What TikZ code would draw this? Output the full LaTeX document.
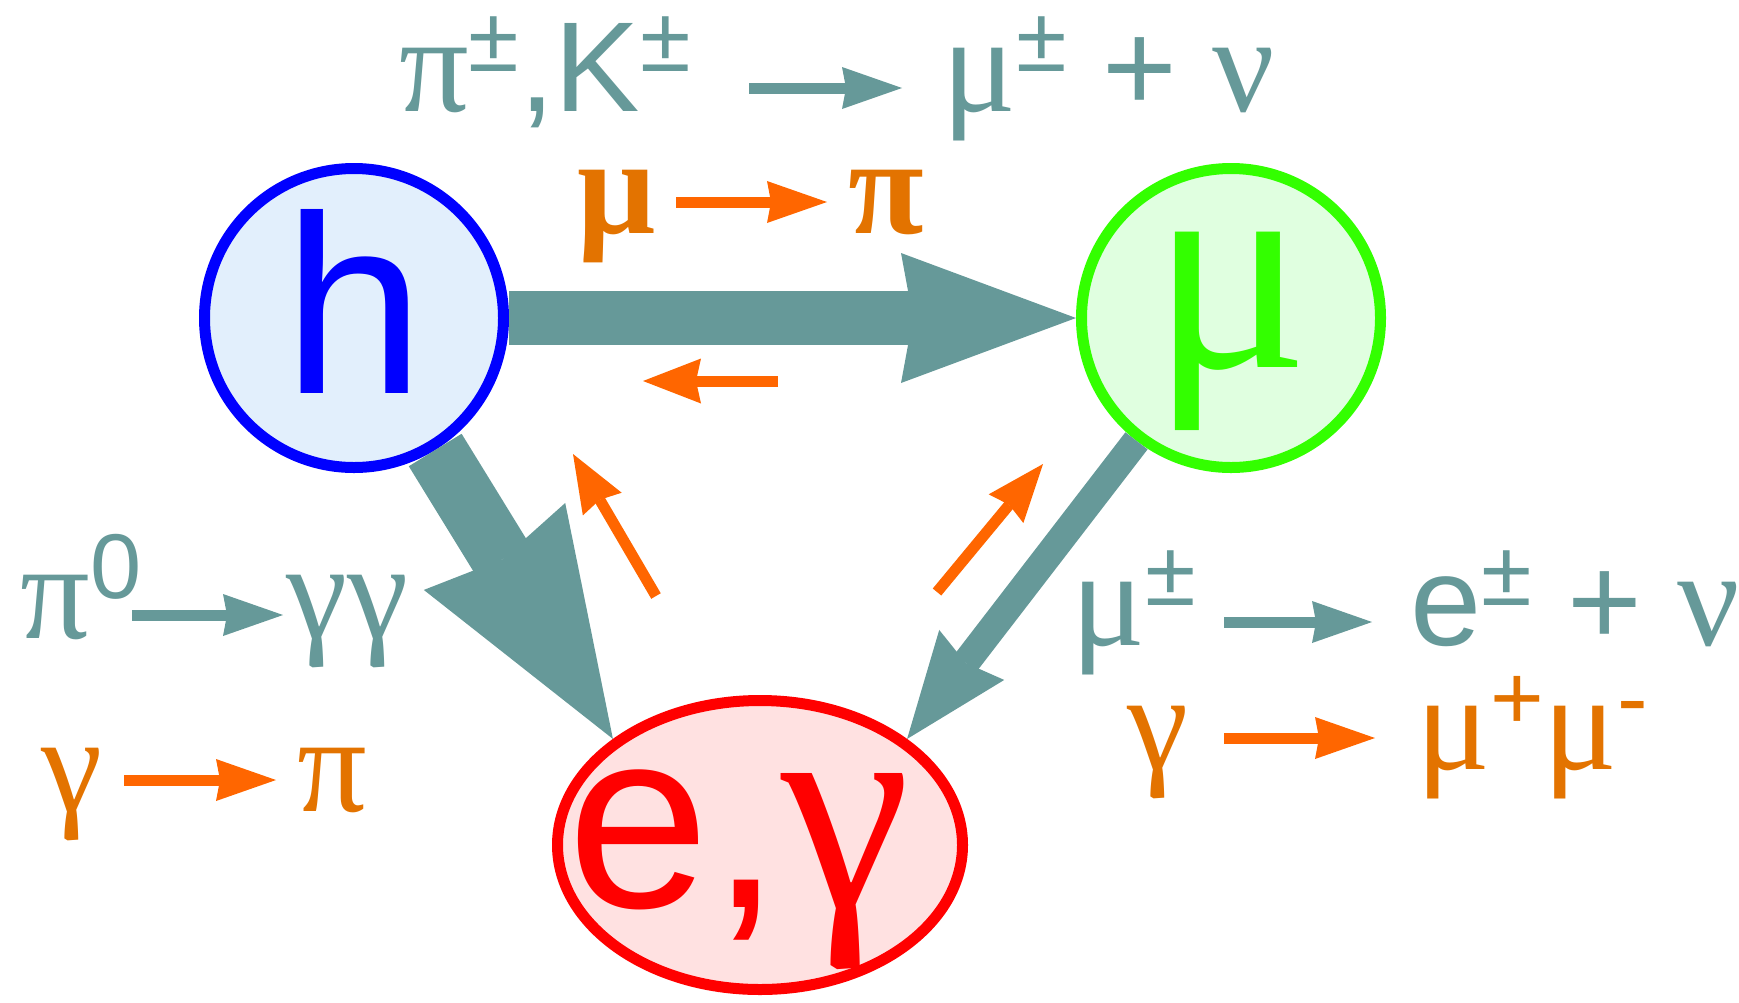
\documentclass[tikz,border=0pt]{standalone}
\usepackage{fontspec}
\setmainfont{Liberation Sans}
\newfontfamily\gr{Liberation Serif}
\usetikzlibrary{arrows.meta, shapes.geometric}

\definecolor{tealc}{RGB}{102,153,153}
\definecolor{orangearrow}{RGB}{255,102,0}
\definecolor{orangetext}{RGB}{227,115,0}
\definecolor{hblue}{RGB}{0,0,255}
\definecolor{hfill}{RGB}{226,239,252}
\definecolor{mugreen}{RGB}{51,255,0}
\definecolor{mufill}{RGB}{224,255,224}
\definecolor{egred}{RGB}{255,0,0}
\definecolor{egfill}{RGB}{255,225,225}

\newcommand\fs[1]{\fontsize{#1}{#1}\selectfont}
\newcommand\grk[1]{{\gr\fs{138}#1}}
\newcommand\upsym[1]{\raisebox{40pt}{\fs{92}#1}}

\tikzset{
    particle/.style={circle, line width=11pt, inner sep=0pt, minimum size=299pt},
    teal text/.style={text=tealc, font=\fs{128}, inner sep=0pt, text height=60pt, text depth=14pt},
    orange text/.style={text=orangetext, font=\fs{128}, inner sep=0pt, text height=76pt, text depth=14pt},
    teal arrow/.style={draw=tealc, line width=11pt, -{Stealth[length=60pt, width=42pt, inset=4pt, line width=0pt]}},
    orange arrow/.style={draw=orangearrow, line width=11pt, -{Stealth[length=60pt, width=42pt, inset=4pt, line width=0pt]}},
    backflow/.style={draw=orangearrow, line width=11pt, -{Stealth[length=58pt, width=45pt, inset=5pt, line width=0pt]}}
}

\begin{document}
\begin{tikzpicture}[x=1pt, y=-1pt]
    \useasboundingbox (0,0) rectangle (1739,1002);

    % particle species
    \node[particle, draw=hblue, fill=hfill, text=hblue, font=\fs{254}, text height=182pt, text depth=32pt]
        (h) at (354,318) {h};
    \node[particle, draw=mugreen, fill=mufill, text=mugreen, font={\gr\fs{295}}, text height=160pt, text depth=62pt]
        (mu) at (1231,318) {μ};
    \node[ellipse, draw=egred, fill=egfill, line width=11pt, inner sep=0pt, minimum width=405pt, minimum height=289pt]
        (eg) at (760,845) {};
    \node[text=egred, font=\fs{256}, inner sep=0pt, text height=190pt, text depth=66pt]
        (egtext) at (739,845) {e,{\gr\fs{292}γ}};

    % main flows
    \draw[tealc, line width=54pt, -{Stealth[length=175pt, width=130pt, inset=12pt, line width=0pt]}] (h) -- (mu);
    \draw[tealc, line width=62pt, -{Stealth[length=226pt, width=166pt, inset=15pt, line width=0pt]}] (h) -- (eg.north west);
    \draw[tealc, line width=28pt, -{Stealth[length=106pt, width=82pt, inset=10pt, line width=0pt]}] (mu) -- (eg.north east);

    % back flows
    \coordinate (back1a) at (778,381);
    \coordinate (back1b) at (643,381);
    \coordinate (back2a) at (656,596);
    \coordinate (back2b) at (573,454);
    \coordinate (back3a) at (937,592);
    \coordinate (back3b) at (1043,464);
    \draw[backflow] (back1a) -- (back1b);
    \draw[backflow] (back2a) -- (back2b);
    \draw[backflow] (back3a) -- (back3b);

    % reactions
    \node[teal text, anchor=base east] (piK) at (691,111) {\grk{π}\upsym{±},K\upsym{±}};
    \node[teal text, anchor=base west] (munu) at (942,111) {\grk{μ}\upsym{±} + \grk{ν}};
    \draw[teal arrow, shorten <=58pt, shorten >=40pt] (piK.east) -- (munu.west);

    \node[orange text, anchor=base east] (mupi) at (656,233) {\grk{\bfseries μ}};
    \node[orange text, anchor=base west] (pimu) at (848,233) {\grk{\bfseries π}};
    \draw[orange arrow, shorten <=20pt, shorten >=21pt] (mupi.east) -- (pimu.west);

    \node[teal text, anchor=base east] (pizero) at (142,638) {\grk{π}\upsym{0}};
    \node[teal text, anchor=base west] (gamgam) at (286,638) {\grk{γγ}};
    \draw[teal arrow, shorten <=-10pt, shorten >=3pt] (pizero.east) -- (gamgam.west);

    \node[orange text, anchor=base east] (gampi) at (103,811) {\grk{γ}};
    \node[orange text, anchor=base west] (pigam) at (297,811) {\grk{π}};
    \draw[orange arrow, shorten <=21pt, shorten >=21pt] (gampi.east) -- (pigam.west);

    \node[teal text, anchor=base east] (mudecay) at (1196,645) {\grk{μ}\upsym{±}};
    \node[teal text, anchor=base west] (enu) at (1410,645) {e\upsym{±} + \grk{ν}};
    \draw[teal arrow, shorten <=28pt, shorten >=38pt] (mudecay.east) -- (enu.west);

    \node[orange text, anchor=base east] (gammu) at (1189,769) {\grk{γ}};
    \node[orange text, anchor=base west] (mupair) at (1416,769) {\grk{μ}\upsym{+}\grk{μ}\upsym{-}};
    \draw[orange arrow, shorten <=35pt, shorten >=41pt] (gammu.east) -- (mupair.west);
\end{tikzpicture}
\end{document}
